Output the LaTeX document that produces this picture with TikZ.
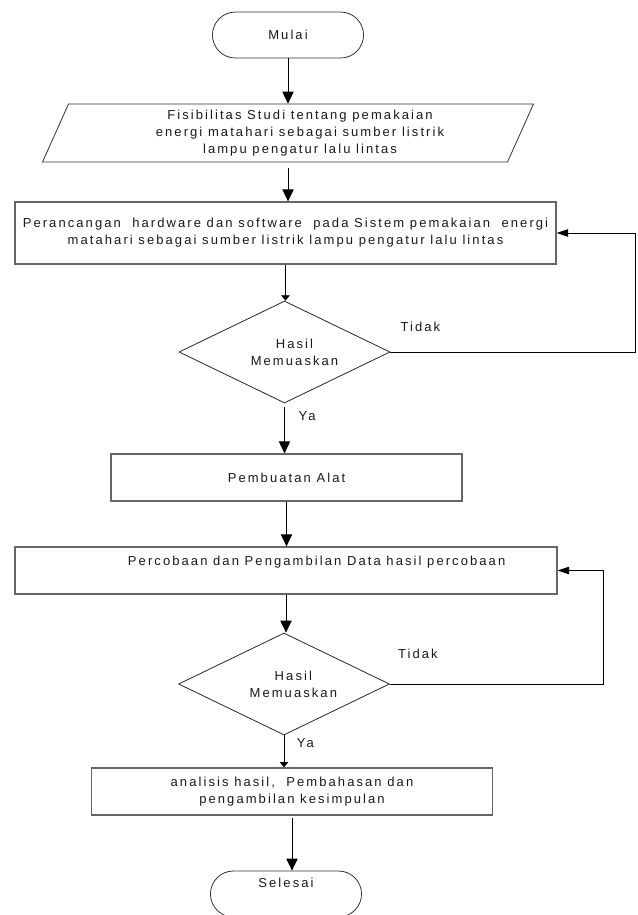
\documentclass[tikz,border=0pt]{standalone}
\usepackage{fontspec}
\setmainfont{Liberation Sans}[LetterSpace=16]
\usetikzlibrary{shapes.geometric,shapes.misc,arrows.meta,positioning}
\newcommand{\fsz}{\fontsize{9.75}{12.6}\selectfont}
\tikzset{terminal/.style={rounded rectangle, draw=black!80, line width=0.6pt, minimum width=120pt, minimum height=34.5pt},
datain/.style={trapezium, trapezium left angle=63, trapezium right angle=117, trapezium stretches body=true, draw=black!80, line width=0.6pt, minimum height=43.5pt, align=center, inner ysep=2pt},
process/.style={rectangle, draw=black!60, line width=1pt, align=center},
decision/.style={diamond, draw=black!85, line width=0.6pt, minimum width=158.25pt, minimum height=76.5pt, inner sep=0pt},
flow/.style={-{Triangle[length=9pt,width=8.5pt]}, line width=0.7pt},
flowsmall/.style={-{Triangle[length=4pt,width=6.5pt]}, line width=0.7pt},
back/.style={-{Triangle[length=8.5pt,width=5.5pt]}, line width=0.7pt}}

\begin{document}
\begin{tikzpicture}[x=0.75pt, y=-0.75pt, every node/.style={font=\fsz, text=black!90}]
\useasboundingbox (0,0) rectangle (637,915);
%\draw[step=50,color=gray] (0,0) grid (637,915);
\node[terminal] (mulai) at (288,35) {Mulai};
\node[datain, minimum width=368.25pt] (studi) at (288,133)
  {\hspace*{18pt}Fisibilitas Studi tentang pemakaian\\\hspace*{18pt}energi matahari sebagai sumber listrik\\\hspace*{18pt}lampu pengatur lalu lintas};
\node[process, minimum width=405.75pt, minimum height=46.5pt, inner xsep=1pt] (rancang) at (285.5,233)
  {Perancangan\ \ hardware dan software\ \ pada Sistem pemakaian\ \ energi\\matahari sebagai sumber listrik lampu pengatur lalu lintas};
\node[decision, label={[xshift=7.5pt,align=center]center:Hasil\\Memuaskan}] (cek1) at (284.5,352) {};
\node[process, minimum width=263.25pt, minimum height=35.25pt] (alat) at (286.5,477.5) {Pembuatan Alat};
\node[process, minimum width=406.5pt, minimum height=35.25pt,
  label={[xshift=23pt,yshift=6pt]center:Percobaan dan Pengambilan Data hasil percobaan}] (coba) at (286,570.5) {};
\node[decision, label={[xshift=7pt,align=center]center:Hasil\\Memuaskan}] (cek2) at (284,684) {};
\node[process, minimum width=301pt, minimum height=35.25pt] (analisis) at (292,791.5)
  {analisis hasil,\ \ Pembahasan dan\\pengambilan kesimpulan};
\node[terminal, text depth=16.5pt] (selesai) at (286,894) {Selesai};

% jalur utama
\draw[flow] (mulai.south) -- (mulai.south |- studi.north);
\draw[flow, shorten <=4.5pt] (studi.south) -- (studi.south |- rancang.north);
\draw[flowsmall] (rancang.south) -- (rancang.south |- cek1.north);
\draw[flow, shorten <=3pt] (cek1.south) -- (cek1.south |- alat.north);
\draw[flow] (alat.south) -- (alat.south |- coba.north);
\draw[flow] (coba.south) -- (coba.south |- cek2.north);
\draw[flowsmall] (cek2.south) -- (cek2.south |- analisis.north);
\draw[flow, shorten <=1.5pt] (analisis.south) -- (analisis.south |- selesai.north);

% umpan balik
\draw[back] (cek1.east) -- ++(245,0) |- (rancang.east);
\draw[back] (cek2.east) -- ++(214,0) |- (coba.east);

\node at ([xshift=22.5pt,yshift=18.75pt]cek1.east) {Tidak};
\node at ([xshift=21pt,yshift=22.5pt]cek2.east) {Tidak};
\node at ([xshift=17pt,yshift=-9.75pt]cek1.south) {Ya};
\node at ([xshift=16pt,yshift=-6pt]cek2.south) {Ya};
\end{tikzpicture}
\end{document}
